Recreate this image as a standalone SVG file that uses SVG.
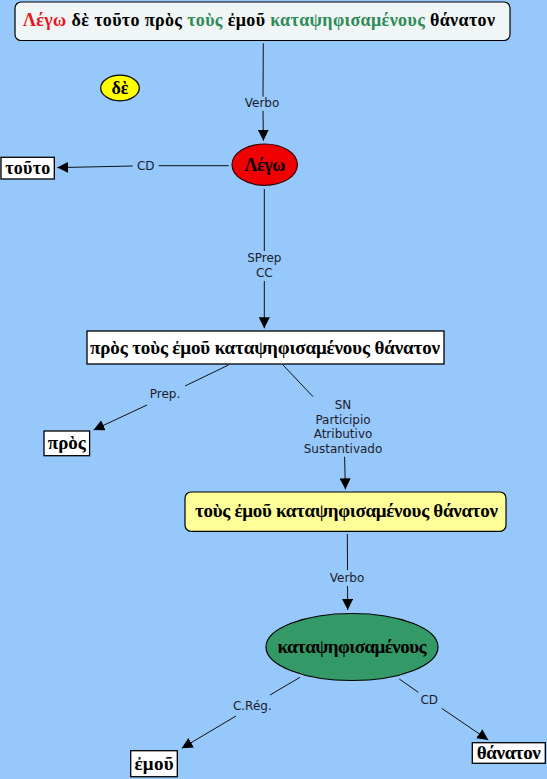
<svg xmlns="http://www.w3.org/2000/svg" width="547" height="779" viewBox="0 0 547 779">
<style>
.gk{font-family:"Liberation Serif","DejaVu Serif",serif;font-weight:bold;fill:#000;text-anchor:middle}
.lb{font-family:"DejaVu Sans","Verdana",sans-serif;font-size:12px;fill:#1c1c2a;text-anchor:middle}
.ln{stroke:#111;stroke-width:1;fill:none}
.ar{stroke:#111;stroke-width:1;fill:none;marker-end:url(#ah)}
.bx{fill:#fff;stroke:#000;stroke-width:1.3}
</style>
<defs>
<marker id="ah" markerUnits="userSpaceOnUse" markerWidth="11" markerHeight="11" viewBox="0 0 10 10" refX="10" refY="5" orient="auto">
<path d="M0,0 L10,5 L0,10 z" fill="#000"/>
</marker>
</defs>
<rect width="547" height="779" fill="#96C8FB"/>

<g id="connectors">
<path class="ln" d="M263.3,43.3 L263,96.7"/>
<path class="ar" d="M263,110.7 L263.4,140.7"/>
<text class="lb" x="262" y="107">Verbo</text>

<path class="ln" d="M228.7,165.7 L158.7,165.7"/>
<path class="ar" d="M132.7,166 L57.3,167.6"/>
<text class="lb" x="145.7" y="170">CD</text>

<path class="ln" d="M264.3,189 L264.3,251"/>
<path class="ar" d="M264.3,281 L264.3,328.3"/>
<text class="lb" x="264.3" y="262">SPrep</text>
<text class="lb" x="264.3" y="276.5">CC</text>

<path class="ln" d="M228.5,365 L185,386"/>
<path class="ar" d="M147,405 L93.5,430"/>
<text class="lb" x="165" y="398">Prep.</text>

<path class="ln" d="M283,365 L313,396.7"/>
<path class="ar" d="M344.6,456.7 L345.4,489.3"/>
<text class="lb" x="343" y="409">SN</text>
<text class="lb" x="343" y="423.5">Participio</text>
<text class="lb" x="343" y="438">Atributivo</text>
<text class="lb" x="343" y="452.5">Sustantivado</text>

<path class="ln" d="M347.3,534 L347.5,570"/>
<path class="ar" d="M347.5,586 L347.7,610"/>
<text class="lb" x="347" y="581.5">Verbo</text>

<path class="ln" d="M300,677.3 L270,695"/>
<path class="ar" d="M236,716 L181.7,748.3"/>
<text class="lb" x="252.3" y="710">C.Rég.</text>

<path class="ln" d="M399.3,679 L418.3,692.3"/>
<path class="ar" d="M441.7,708.3 L488.3,740"/>
<text class="lb" x="429.3" y="704">CD</text>
</g>

<g id="n-sentence">
<rect x="15" y="2" width="495" height="38.5" rx="6" fill="#F0F6F6" stroke="#000" stroke-width="1.2"/>
<text class="gk" x="259" y="26" font-size="18" textLength="472"><tspan fill="#E8161B">Λέγω</tspan> δὲ τοῦτο πρὸς <tspan fill="#2E8B57">τοὺς</tspan> ἐμοῦ <tspan fill="#2E8B57">καταψηφισαμένους</tspan> θάνατον</text>
</g>

<g id="n-de">
<ellipse cx="120" cy="88" rx="19.3" ry="12.8" fill="#FFFF00" stroke="#000" stroke-width="1.2"/>
<text class="gk" x="120" y="94" font-size="18">δὲ</text>
</g>

<g id="n-lego">
<ellipse cx="264.7" cy="164.7" rx="32.7" ry="20.7" fill="#F00000" stroke="#300" stroke-width="1.2"/>
<text class="gk" x="265" y="170.5" font-size="18" fill="#200" textLength="41">Λέγω</text>
</g>

<g id="n-touto">
<rect class="bx" x="1" y="157.3" width="53.3" height="21.7"/>
<text class="gk" x="27.7" y="174" font-size="18" textLength="45">τοῦτο</text>
</g>

<g id="n-sprep">
<rect class="bx" x="87" y="331" width="357" height="33"/>
<text class="gk" x="265" y="353.5" font-size="19" textLength="350">πρὸς τοὺς ἐμοῦ καταψηφισαμένους θάνατον</text>
</g>

<g id="n-pros">
<rect class="bx" x="44" y="431" width="45.6" height="24.7"/>
<text class="gk" x="66.8" y="449" font-size="19" textLength="38">πρὸς</text>
</g>

<g id="n-sn">
<rect x="185" y="492" width="321" height="39.3" rx="6" fill="#FFFF99" stroke="#000" stroke-width="1.2"/>
<text class="gk" x="346.5" y="516.5" font-size="19" textLength="303">τοὺς ἐμοῦ καταψηφισαμένους θάνατον</text>
</g>

<g id="n-part">
<ellipse cx="352" cy="647" rx="86" ry="33.5" fill="#339966" stroke="#000" stroke-width="1.2"/>
<text class="gk" x="352" y="652.5" font-size="19" textLength="149">καταψηφισαμένους</text>
</g>

<g id="n-emou">
<rect class="bx" x="130.7" y="750.7" width="46.6" height="26"/>
<text class="gk" x="154" y="769.5" font-size="19" textLength="39">ἐμοῦ</text>
</g>

<g id="n-thanaton">
<rect class="bx" x="472.3" y="742.7" width="73" height="20.6"/>
<text class="gk" x="508.8" y="758.5" font-size="19" textLength="64">θάνατον</text>
</g>
</svg>
